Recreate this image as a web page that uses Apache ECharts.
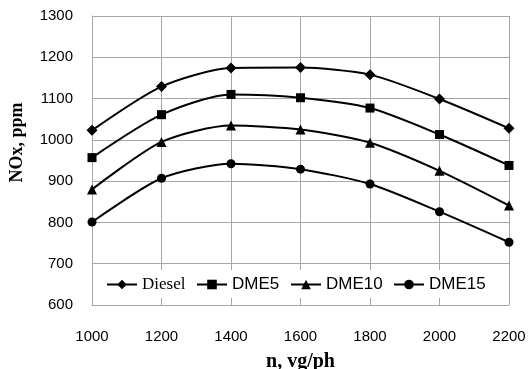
<!DOCTYPE html>
<html><head><meta charset="utf-8">
<script src="https://cdn.jsdelivr.net/npm/echarts@6/dist/echarts.min.js"></script>
<style>html,body{margin:0;padding:0;background:#fff}#c{width:529px;height:369px}</style>
</head><body><div id="c"></div>
<script>
var speeds = [1000, 1200, 1400, 1600, 1800, 2000, 2200];
var seriesNames = ['Diesel', 'DME5', 'DME10', 'DME15'];
var diesel = [1023, 1129, 1174, 1175, 1158, 1099, 1028];
var dme5 = [957, 1061, 1110, 1102, 1077, 1013, 938];
var dme10 = [880, 995, 1035, 1025, 993, 925, 841];
var dme15 = [801, 907, 942, 929, 893, 826, 752];
var xTicks = {min: 1000, max: 2200, step: 200};
var yTicks = {min: 600, max: 1300, step: 100};

var allValues = [diesel, dme5, dme10, dme15];
var symbols = ['diamond', 'rect', 'triangle', 'circle'];
var symSizes = [11, 9, 10, 9];
var legendLeft = [106, 196, 290, 393];
var legendFonts = [
  {fontFamily: 'Liberation Serif', fontSize: 17, color: '#000'},
  {fontFamily: 'Liberation Sans', fontSize: 17, color: '#000'},
  {fontFamily: 'Liberation Sans', fontSize: 17, color: '#000'},
  {fontFamily: 'Liberation Sans', fontSize: 17, color: '#000'}
];

var chart = echarts.init(document.getElementById('c'), null, {renderer: 'canvas'});
var series = seriesNames.map(function (n, i) {
  return {
    name: n, type: 'line', smooth: 0.25,
    data: speeds.map(function (x, j) { return [x, allValues[i][j]]; }),
    symbol: symbols[i], symbolSize: symSizes[i],
    lineStyle: {color: '#000', width: 2},
    itemStyle: {color: '#000'},
    z: 5
  };
});
var legends = seriesNames.map(function (n, i) {
  return {
    data: [{name: n, textStyle: legendFonts[i]}],
    left: legendLeft[i], top: 276,
    itemWidth: 30, itemHeight: 12, itemGap: 4, padding: 0,
    textStyle: legendFonts[i], z: 10
  };
});
var plain = function (v) { return String(v); };
var axisLabelStyle = {fontFamily: 'Liberation Sans', fontSize: 15, color: '#000', formatter: plain};
chart.setOption({
  animation: false,
  backgroundColor: '#fff',
  grid: {left: 92, right: 20, top: 16, bottom: 64, containLabel: false, outerBoundsMode: 'none'},
  legend: legends,
  graphic: [{type: 'rect', shape: {x: 100, y: 270, width: 396, height: 28}, style: {fill: '#fff'}, z: 3, silent: true}],
  xAxis: {
    type: 'value', min: xTicks.min, max: xTicks.max, interval: xTicks.step,
    name: 'n, vg/ph', nameLocation: 'middle', nameGap: 47,
    nameTextStyle: {fontFamily: 'Liberation Serif', fontWeight: 'bold', fontSize: 20, color: '#000'},
    axisLine: {show: true, lineStyle: {color: '#a6a6a6', width: 1}},
    axisTick: {show: false},
    axisLabel: Object.assign({margin: 24}, axisLabelStyle),
    splitLine: {show: true, lineStyle: {color: '#a6a6a6', width: 1}}
  },
  yAxis: {
    type: 'value', min: yTicks.min, max: yTicks.max, interval: yTicks.step,
    name: 'NOx, ppm', nameLocation: 'middle', nameGap: 66,
    nameTextStyle: {fontFamily: 'Liberation Serif', fontWeight: 'bold', fontSize: 18, color: '#000', padding: [0, 0, 0, 36]},
    axisLine: {show: true, lineStyle: {color: '#a6a6a6', width: 1}},
    axisTick: {show: false},
    axisLabel: Object.assign({margin: 19}, axisLabelStyle),
    splitLine: {show: true, lineStyle: {color: '#a6a6a6', width: 1}}
  },
  series: series
});
</script></body></html>
